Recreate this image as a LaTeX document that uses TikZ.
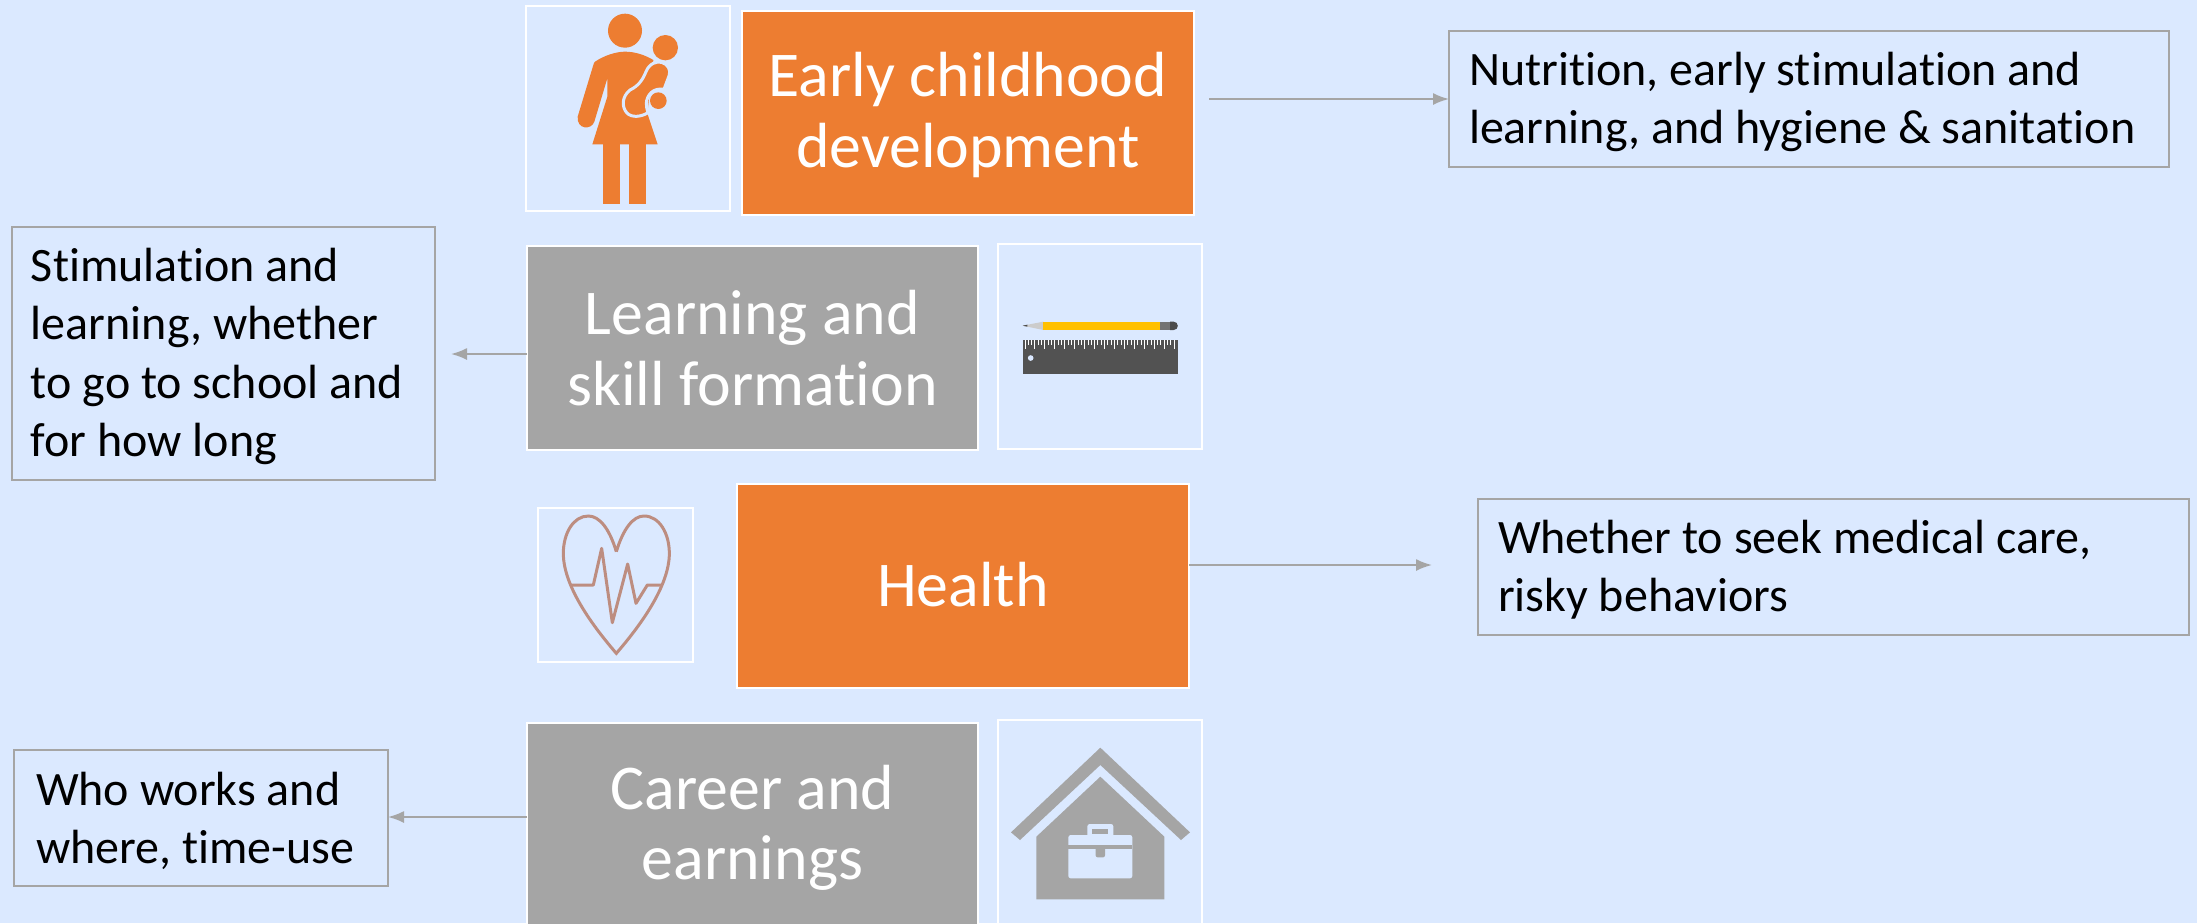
\documentclass[tikz,border=0pt]{standalone}
\usepackage{fontspec}
\usetikzlibrary{arrows.meta}
\setmainfont{Carlito}[Ligatures=NoCommon]
\definecolor{bgc}{HTML}{DBE9FF}
\definecolor{orng}{HTML}{ED7D31}
\definecolor{gry}{HTML}{A5A5A5}
\definecolor{hrt}{HTML}{BD8D80}
\definecolor{pencilc}{HTML}{FFC000}
\newcommand{\shln}[2]{\raisebox{#1}[\height][\depth]{#2}}
\newcommand{\bigfnt}{\fontsize{31.9pt}{35.3pt}\selectfont\setlength{\lineskiplimit}{-100pt}}
\newcommand{\notefnt}{\fontsize{24pt}{29.2pt}\selectfont\setlength{\lineskiplimit}{-100pt}}
\tikzset{
 bigbox/.style={draw=white,line width=1.3pt,anchor=north west,align=center,text=white,inner sep=0pt,outer sep=0pt,
   font=\bigfnt},
 iconbox/.style={draw=white,line width=1.3pt,anchor=north west,inner sep=0pt,outer sep=0pt},
 notebox/.style={draw=gry,line width=0.6pt,anchor=north west,inner xsep=10pt,inner ysep=0pt,outer sep=0pt,align=flush left,
   font=\notefnt,text=black},
 conn/.style={draw=gry,line width=0.9pt,-{Latex[length=8pt,width=6pt]}},
 zoomed/.style={x=0.16667pt,y=-0.16667pt}
}
\begin{document}
\begin{tikzpicture}[x=0.5pt,y=-0.5pt]
\useasboundingbox (0,0) rectangle (2197,923);
\fill[bgc] (0,0) rectangle (2197,923);
\begin{scope}
\clip (0,0) rectangle (2197,923);
% main boxes
\node[iconbox,minimum width=102pt,minimum height=102.5pt] (i1) at (526,6) {};
\node[bigbox,fill=orng,minimum width=226pt,minimum height=102pt] (b1) at (742,11) {\shln{-1pt}{Early childhood}\\\shln{-1pt}{development}};
\node[bigbox,fill=gry,minimum width=225.5pt,minimum height=102pt] (b2) at (527,246) {Learning and\\skill formation};
\node[iconbox,minimum width=102pt,minimum height=102.5pt] (i2) at (998,244) {};
\node[iconbox,minimum width=77.5pt,minimum height=77pt] (i3) at (538,508) {};
\node[bigbox,fill=orng,minimum width=226pt,minimum height=102pt] (b3) at (737,484) {\shln{0.7pt}{Health}};
\node[bigbox,fill=gry,minimum width=225.5pt,minimum height=102pt] (b4) at (527,723) {\shln{-1.4pt}{Career and}\\\shln{-1.4pt}{earnings}};
\node[iconbox,minimum width=102pt,minimum height=102.5pt] (i4) at (998,720) {};
\end{scope}
% notes
\node[notebox,text width=340pt,minimum height=68pt] (n1) at (1449,31) {\shln{-1.4pt}{Nutrition, early stimulation and}\\\shln{-1.4pt}{learning, and hygiene \& sanitation}};
\node[notebox,inner xsep=9.5pt,text width=192.5pt,minimum height=126.5pt] (n2) at (12,227) {\shln{-1.4pt}{Stimulation and}\\\shln{-1.4pt}{learning, whether}\\\shln{-1.4pt}{to go to school and}\\\shln{-1.4pt}{for how long}};
\node[notebox,text width=335.5pt,minimum height=68pt] (n3) at (1478,499) {\shln{-1.4pt}{Whether to seek medical care,}\\\shln{-1.4pt}{risky behaviors}};
\node[notebox,inner xsep=11pt,text width=165pt,minimum height=68pt] (n4) at (14,750) {\shln{-1.4pt}{Who works and}\\\shln{-1.4pt}{where, time-use}};
% connectors
\coordinate (c3) at (1432,565);
\coordinate (s1) at (1209,99);
\coordinate (e2) at (451,354);
\coordinate (c4) at (527,817);
\draw[conn] (s1) -- (s1 -| n1.west);
\draw[conn] (b2.west |- e2) -- (e2);
\draw[conn] (b3.east |- c3) -- (c3);
\draw[conn] (b4.west |- c4) -- (c4 -| n4.east);
% mother icon
\begin{scope}[shift={(510,0)},zoomed]
\fill[orng] (345,92) circle[radius=51];
\fill[orng] (466,143) circle[radius=38];
\fill[orng] (255,185) .. controls (285,165) and (320,155) .. (345,155) .. controls (375,155) and (405,165) .. (430,180)
  -- (412,340) -- (443,433) -- (247,433) -- (292,290) -- (292,235) -- (253,365)
  .. controls (245,390) and (200,390) .. (203,350) -- (250,195) .. controls (251,190) and (253,187) .. (255,185) -- cycle;
\fill[orng] (280,433) rectangle (331,611);
\fill[orng] (357,433) rectangle (408,611);
\fill[orng,draw=bgc,line width=1.5pt] (408,215) .. controls (418,190) and (440,183) .. (455,187) .. controls (475,193) and (482,210) .. (478,225)
  -- (462,268) .. controls (430,262) and (410,285) .. (409,310) .. controls (409,320) and (411,330) .. (414,338)
  .. controls (395,350) and (365,355) .. (350,338) .. controls (335,320) and (335,290) .. (360,270) .. controls (385,258) and (398,240) .. (408,215) -- cycle;
\fill[orng] (445,302) circle[radius=25];
\end{scope}
% pencil & ruler
\begin{scope}[shift={(980,270)},zoomed]
\fill[gray!40] (128,167) -- (190,155) -- (190,180) -- cycle;
\fill[black!70] (128,167) -- (142,164) -- (142,170) -- cycle;
\fill[pencilc] (190,155) rectangle (540,180);
\fill[black!55] (540,155) rectangle (570,180);
\fill[black!70] (570,155) -- (581,155) arc[start angle=-90,end angle=90,radius=12.5] -- (570,180) -- cycle;
\fill[black!68] (128,210) rectangle (593,313);
\foreach \k in {0,...,45} {
  \pgfmathsetmacro{\xx}{135+\k*9.95}
  \pgfmathsetmacro{\yy}{mod(\k,3)==0 ? 237 : 225}
  \fill[white] (\xx-1.5,210) rectangle (\xx+1.5,\yy);
}
\fill[bgc] (152,264) circle[radius=8.5];
\end{scope}
% heart
\begin{scope}[shift={(520,490)},zoomed]
\draw[hrt,line width=1.5pt,line join=miter] (289,185) .. controls (268,115) and (238,78) .. (205,78) .. controls (160,78) and (130,130) .. (130,190)
  .. controls (130,290) and (220,410) .. (289,490) .. controls (358,410) and (448,290) .. (448,190)
  .. controls (448,130) and (418,78) .. (372,78) .. controls (340,78) and (310,115) .. (289,185);
\draw[hrt,line width=1.5pt,line join=round] (152,285) -- (220,285) -- (245,175) -- (277,398) -- (323,222) -- (348,340) -- (382,285) -- (428,285);
\end{scope}
% house
\begin{scope}[shift={(980,710)},zoomed]
\fill[gry] (361,113) -- (630,367) -- (603,390) -- (361,165) -- (120,390) -- (93,367) -- cycle;
\fill[gry] (361,200) -- (553,380) -- (553,568) -- (169,568) -- (169,380) -- cycle;
\fill[bgc,rounded corners=1.2pt] (265,375) rectangle (457,505);
\fill[bgc,rounded corners=1.2pt] (322,342) rectangle (400,385);
\fill[gry] (337,356) rectangle (385,372);
\fill[gry] (265,405) rectangle (457,418);
\fill[gry,rounded corners=1pt] (347,408) rectangle (375,442);
\end{scope}
\end{tikzpicture}
\end{document}
